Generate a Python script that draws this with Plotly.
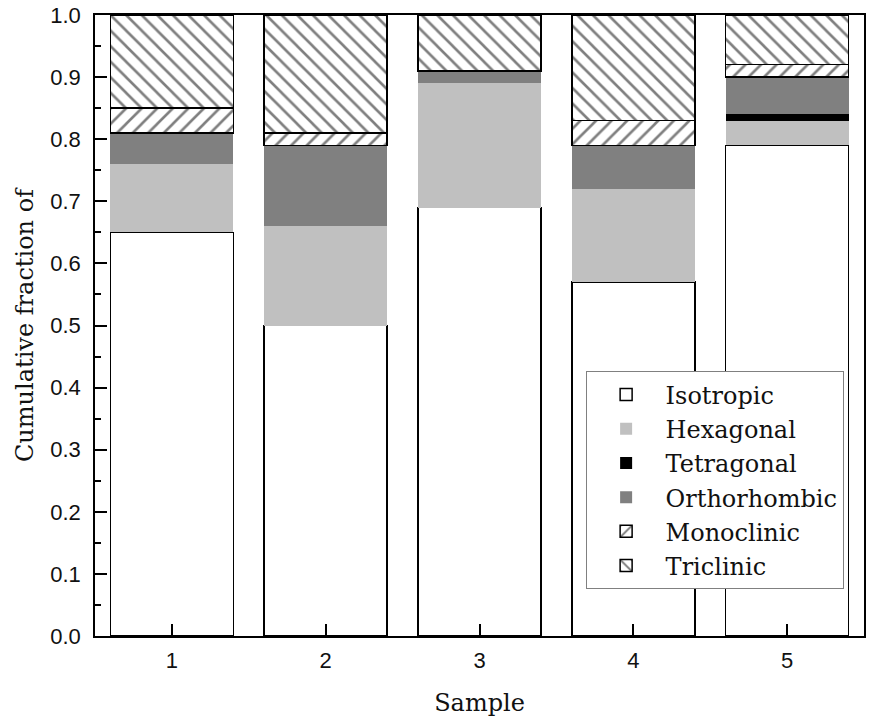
import plotly.graph_objects as go

samples = [1, 2, 3, 4, 5]
isotropic = [0.65, 0.50, 0.69, 0.57, 0.79]
hexagonal = [0.11, 0.16, 0.20, 0.15, 0.04]
tetragonal = [0.0, 0.0, 0.0, 0.0, 0.01]
orthorhombic = [0.05, 0.13, 0.02, 0.07, 0.06]
monoclinic = [0.04, 0.02, 0.0, 0.04, 0.02]
triclinic = [0.15, 0.19, 0.09, 0.17, 0.08]
y_ticks = [0.0, 0.1, 0.2, 0.3, 0.4, 0.5, 0.6, 0.7, 0.8, 0.9, 1.0]

serif = "DejaVu Serif"
sans = "Liberation Sans"

fig = go.Figure()
fig.add_bar(x=samples, y=isotropic, name="Isotropic",
            marker=dict(color="white", line=dict(color="black", width=1.5)))
fig.add_bar(x=samples, y=hexagonal, name="Hexagonal",
            marker=dict(color="#c0c0c0", line=dict(width=0)))
fig.add_bar(x=samples, y=tetragonal, name="Tetragonal",
            marker=dict(color="black", line=dict(width=0)))
fig.add_bar(x=samples, y=orthorhombic, name="Orthorhombic",
            marker=dict(color="#808080", line=dict(width=0)))
fig.add_bar(x=samples, y=monoclinic, name="Monoclinic",
            marker=dict(color="white", line=dict(color="black", width=1.5),
                        pattern=dict(shape="/", fgcolor="black", bgcolor="white",
                                     size=11, solidity=0.24)))
fig.add_bar(x=samples, y=triclinic, name="Triclinic",
            marker=dict(color="white", line=dict(color="black", width=1.5),
                        pattern=dict(shape="\\", fgcolor="black", bgcolor="white",
                                     size=11, solidity=0.24)))

fig.update_layout(
    barmode="stack",
    bargap=0.2,
    width=869, height=724,
    margin=dict(l=95, r=3, t=15, b=88),
    plot_bgcolor="white", paper_bgcolor="white",
    showlegend=True,
    legend=dict(x=0.638, y=0.426, xanchor="left", yanchor="top",
                traceorder="normal", bgcolor="white",
                bordercolor="#808080", borderwidth=1,
                font=dict(family=serif, size=24, color="#111"),
                tracegroupgap=0, itemwidth=69),
    font=dict(family=sans, size=22, color="#111"),
)

fig.update_xaxes(
    range=[0.5, 5.5], tickvals=samples, ticktext=[str(s) for s in samples],
    ticks="inside", ticklen=12, tickwidth=1.5, tickcolor="black",
    showline=True, linecolor="black", linewidth=1.5, mirror=True,
    showgrid=False, zeroline=False, ticklabelstandoff=4,
    tickfont=dict(family=sans, size=22, color="#111"),
    title=dict(text="Sample", font=dict(family=serif, size=24, color="#111"), standoff=22),
)
fig.update_yaxes(
    range=[0, 1.0], tickvals=y_ticks, tickformat=".1f",
    ticks="inside", ticklen=12, tickwidth=1.5, tickcolor="black",
    minor=dict(ticks="inside", ticklen=6, dtick=0.05, tickcolor="black", tickwidth=1.5),
    showline=True, linecolor="black", linewidth=1.5, mirror=True,
    showgrid=False, zeroline=False, ticklabelstandoff=8,
    ticklabeloverflow="allow",
    tickfont=dict(family=sans, size=22, color="#111"),
    title=dict(text="Cumulative fraction of", font=dict(family=serif, size=24, color="#111"), standoff=10),
)

fig.write_html("out.html", config={"displayModeBar": False},
               post_script="document.body.style.margin='0';document.body.style.overflow='hidden';")
